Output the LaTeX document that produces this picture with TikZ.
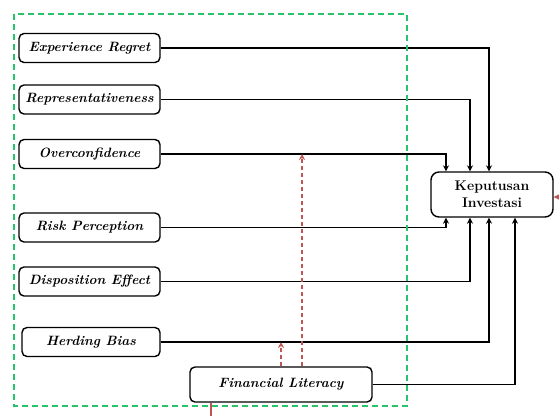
\documentclass[tikz,border=0pt]{standalone}
\usetikzlibrary{arrows.meta}

\definecolor{boxgreen}{RGB}{40,196,108}
\definecolor{modred}{RGB}{192,86,82}

\tikzset{
  factor/.style={draw, rounded corners=5pt, line width=1.4pt, minimum width=141pt, minimum height=29pt, inner sep=1pt, font=\fontsize{13.5}{15}\selectfont\bfseries\itshape},
  link/.style={draw, line width=1.4pt, -{Stealth[length=6pt,width=6pt,open]}},
  moder/.style={draw=modred, line width=1.4pt, dash pattern=on 4pt off 3pt, -{Stealth[length=6pt,width=6pt,open]}}
}

\begin{document}
\begin{tikzpicture}[x=1pt, y=-1pt]
    \useasboundingbox (0,0) rectangle (559,416);

    % faktor perilaku
    \node[factor] (er) at (89.5, 48) {Experience Regret};
    \node[factor] (rep) at (89.5, 99.5) {Representativeness};
    \node[factor] (oc) at (89.5, 154) {Overconfidence};
    \node[factor] (rp) at (89.5, 227.5) {Risk Perception};
    \node[factor] (de) at (89.5, 281.5) {Disposition Effect};
    \node[factor, minimum width=138pt] (hb) at (91, 342) {Herding Bias};
    \node[factor, minimum width=182pt, minimum height=35pt] (fl) at (281, 384.5) {Financial Literacy};

    \node[draw, rounded corners=8pt, line width=1.4pt, minimum width=122pt, minimum height=45pt, align=center, inner sep=1pt, font=\fontsize{14}{17}\selectfont\bfseries] (ki) at (492, 194.5) {Keputusan\\Investasi};

    % ke keputusan
    \draw[link] (er) -| ([xshift=-3pt]ki.north);
    \draw[link] (rep) -| ([xshift=-22pt]ki.north);
    \draw[link] (oc) -| ([xshift=-46pt]ki.north);
    \draw[link] (rp) -| ([xshift=-46pt]ki.south);
    \draw[link] (de) -| ([xshift=-22pt]ki.south);
    \draw[link] (hb) -| ([xshift=-3pt]ki.south);
    \draw[link] (fl) -| ([xshift=23pt]ki.south);

    % moderasi
    \draw[moder] ([xshift=21pt]fl.north) -- ([xshift=21pt]fl.north |- oc);
    \draw[moder] (fl.north) -- (fl.north |- hb);

    \coordinate (inb) at (211, 416);
    \coordinate (inr) at (559, 197);
    \draw[modred, line width=1.4pt] (inb) -- (inb |- fl.south);
    \draw[modred, line width=1.4pt, -{Stealth[length=6pt,width=6pt]}] (inr) -- (inr -| ki.east);

    % kotak faktor
    \draw[boxgreen, line width=1.4pt, dash pattern=on 6pt off 4pt] (14, 14) rectangle (407, 406);
\end{tikzpicture}
\end{document}
